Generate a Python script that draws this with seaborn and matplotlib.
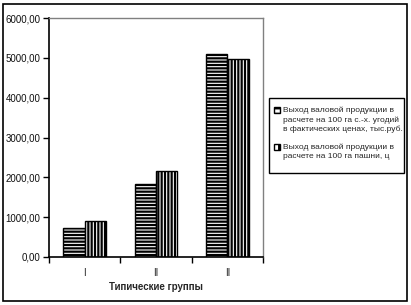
import matplotlib
matplotlib.use("Agg")
import matplotlib.pyplot as plt
import seaborn as sns
import pandas as pd
from matplotlib.patches import Rectangle
from matplotlib.ticker import FixedLocator

groups = ["I", "II", "II"]
series_names = [
    "Выход валовой продукции в\nрасчете на 100 га с.-х. угодий\nв фактических ценах, тыс.руб.",
    "Выход валовой продукции в\nрасчете на 100 га пашни, ц",
]
values_rub = [720, 1830, 5100]
values_c = [900, 2150, 4970]
yticks = [0, 1000, 2000, 3000, 4000, 5000, 6000]
ytick_labels = ["0,00", "1000,00", "2000,00", "3000,00", "4000,00", "5000,00", "6000,00"]
xlabel = "Типические группы"

sns.set_theme(style="white")
plt.rcParams["font.family"] = ["Liberation Sans", "DejaVu Sans"]
plt.rcParams["hatch.linewidth"] = 1.6

pos = list(range(len(groups)))
df = pd.DataFrame({
    "pos": pos * 2,
    "value": values_rub + values_c,
    "series": [series_names[0]] * 3 + [series_names[1]] * 3,
})

W, H = 411, 305
fig = plt.figure(figsize=(W / 100, H / 100), dpi=100)
ax = fig.add_axes([49 / W, 1 - 257 / H, (263 - 49) / W, (257 - 18) / H])

sns.barplot(data=df, x="pos", y="value", hue="series", order=pos,
            hue_order=series_names, palette=["white", "white"],
            width=0.6, edgecolor="black", linewidth=1.0, ax=ax, legend=False)

hatches = ["-----", "|||||"]
for i, container in enumerate(ax.containers):
    for bar in container:
        bar.set_hatch(hatches[i])
        bar.set_edgecolor("black")

ax.set_ylim(0, 6000)
ax.set_xlim(-0.5, 2.5)
ax.set_yticks(yticks)
ax.set_yticklabels(ytick_labels, fontsize=7, color="#111111")
ax.set_xticks(pos)
ax.set_xticklabels(groups, fontsize=7)
ax.tick_params(axis="x", which="major", length=0, pad=8)
ax.xaxis.set_minor_locator(FixedLocator([-0.5, 0.5, 1.5, 2.5]))
ax.tick_params(axis="x", which="minor", length=4, width=1, color="black", direction="out", bottom=True)
ax.tick_params(axis="y", length=4, width=1, color="black", direction="out", left=True, pad=2)
ax.set_xlabel(xlabel, fontsize=7, fontweight="bold", labelpad=3)
ax.set_ylabel("")

for s in ["left", "bottom"]:
    ax.spines[s].set_color("black")
    ax.spines[s].set_linewidth(1.2)
for s in ["top", "right"]:
    ax.spines[s].set_color("#808080")
    ax.spines[s].set_linewidth(1.0)


def fx(px):
    return px / W


def fy(py):
    return 1 - py / H


# legend drawn manually to match the reference box
fig.patches.append(Rectangle((fx(269), fy(173)), fx(404) - fx(269), fy(98) - fy(173),
                             transform=fig.transFigure, fill=True, facecolor="white",
                             edgecolor="black", linewidth=1.0))
leg_hatches = ["---", "||"]
entry_first_line = [110, 147]
entry_lines = [3, 2]
for name, h, yc, n in zip(series_names, leg_hatches, entry_first_line, entry_lines):
    fig.patches.append(Rectangle((fx(274), fy(yc + 3)), fx(6), 6 / H,
                                 transform=fig.transFigure, facecolor="white",
                                 edgecolor="black", hatch=h, linewidth=1.0))
    block_center = yc + (n - 1) * 10 / 2
    fig.text(fx(283), fy(block_center), name, fontsize=6.0, ha="left", va="center",
             linespacing=1.42)

fig.patches.append(Rectangle((3 / W, 4 / H), (407 - 3) / W, (301 - 4) / H,
                             transform=fig.transFigure, fill=False,
                             edgecolor="black", linewidth=1.2))

fig.savefig("out.png", dpi=100)
